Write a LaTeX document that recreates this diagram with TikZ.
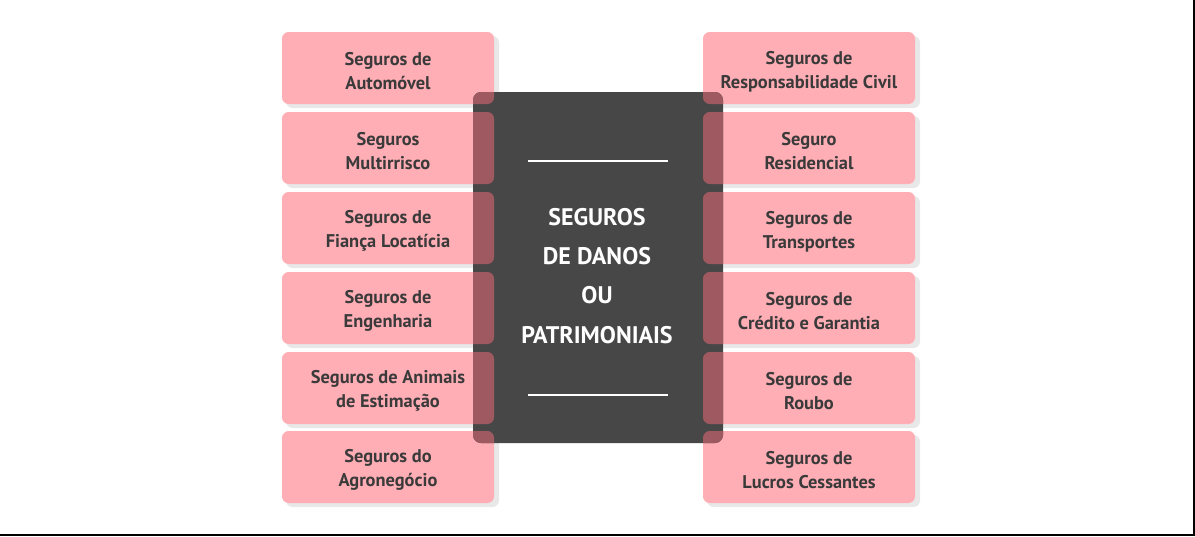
\documentclass[tikz,border=0pt]{standalone}
\usepackage{fontspec}
\setmainfont{PT Sans}
\definecolor{pinkb}{HTML}{FFAEB5}
\definecolor{darkb}{HTML}{474747}
\definecolor{overl}{HTML}{9E5A60}
\definecolor{txt}{HTML}{3A3A3A}
\begin{document}
\begin{tikzpicture}[x=0.75pt,y=-0.75pt,
  pbox/.style={fill=pinkb,rounded corners=5pt,minimum width=159pt,minimum height=54pt,align=center,text=txt,font=\bfseries\fontsize{13.8}{18}\selectfont,inner sep=0pt},
  ptext/.style={align=center,text=txt,font=\bfseries\fontsize{13.8}{18}\selectfont,inner sep=0pt},
  shad/.style={fill=black!9,rounded corners=5pt}]
\useasboundingbox (0,0) rectangle (1195,536);
\fill[white] (0,0) rectangle (1195,536);
\draw[line width=1.5pt] (0,535) -- (1194,535) -- (1194,0);
\def\ys{68,148,228,308,388,467}
% shadows
\foreach \y in \ys {
  \fill[shad] (286,\y-32) rectangle (499,\y+40);
  \fill[shad] (707,\y-32) rectangle (920,\y+40);
}
\node[pbox] (l1) at (388,68) {};
\node[pbox] (l2) at (388,148) {};
\node[pbox] (l3) at (388,228) {};
\node[pbox] (l4) at (388,308) {};
\node[pbox] (l5) at (388,388) {};
\node[pbox] (l6) at (388,467) {};
\node[pbox] (r1) at (809,68) {};
\node[pbox] (r2) at (809,148) {};
\node[pbox] (r3) at (809,228) {};
\node[pbox] (r4) at (809,308) {};
\node[pbox] (r5) at (809,388) {};
\node[pbox] (r6) at (809,467) {};
\node[ptext] at ([yshift=-2.5]l1) {Seguros de\\Automóvel};
\node[ptext] at ([yshift=-2.5]l2) {Seguros\\Multirrisco};
\node[ptext] at ([yshift=-2.5]l3) {Seguros de\\Fiança Locatícia};
\node[ptext] at ([yshift=-2.5]l4) {Seguros de\\Engenharia};
\node[ptext] at ([yshift=-2.5]l5) {Seguros de Animais\\de Estimação};
\node[ptext] at ([yshift=-2.5]l6) {Seguros do\\Agronegócio};
\node[ptext] at ([yshift=-2.5]r1) {Seguros de\\Responsabilidade Civil};
\node[ptext] at ([yshift=-2.5]r2) {Seguro\\Residencial};
\node[ptext] at ([yshift=-2.5]r3) {Seguros de\\Transportes};
\node[ptext] at ([yshift=-2.5]r4) {Seguros de\\Crédito e Garantia};
\node[ptext] at ([yshift=-2.5]r5) {Seguros de\\Roubo};
\node[ptext] at ([yshift=-2.5]r6) {Seguros de\\Lucros Cessantes};
\fill[darkb,rounded corners=6pt] (473,92) rectangle (723,443);
\begin{scope}
\clip[rounded corners=6pt] (473,92) rectangle (723,443);
\foreach \y in \ys {
  \fill[overl,rounded corners=5pt] (282,\y-36) rectangle (494,\y+36);
  \fill[overl,rounded corners=5pt] (703,\y-36) rectangle (915,\y+36);
}
\end{scope}
\node[text=white,align=center,font=\bfseries\fontsize{18}{29.3}\selectfont] (c) at (597,276) {SEGUROS\\DE DANOS\\OU\\PATRIMONIAIS};
\coordinate (a1) at (528,161); \coordinate (a2) at (668,161);
\coordinate (b1) at (528,395); \coordinate (b2) at (668,395);
\draw[white,line width=2.2pt] (a1) -- (a2);
\draw[white,line width=2.2pt] (b1) -- (b2);
\end{tikzpicture}
\end{document}
